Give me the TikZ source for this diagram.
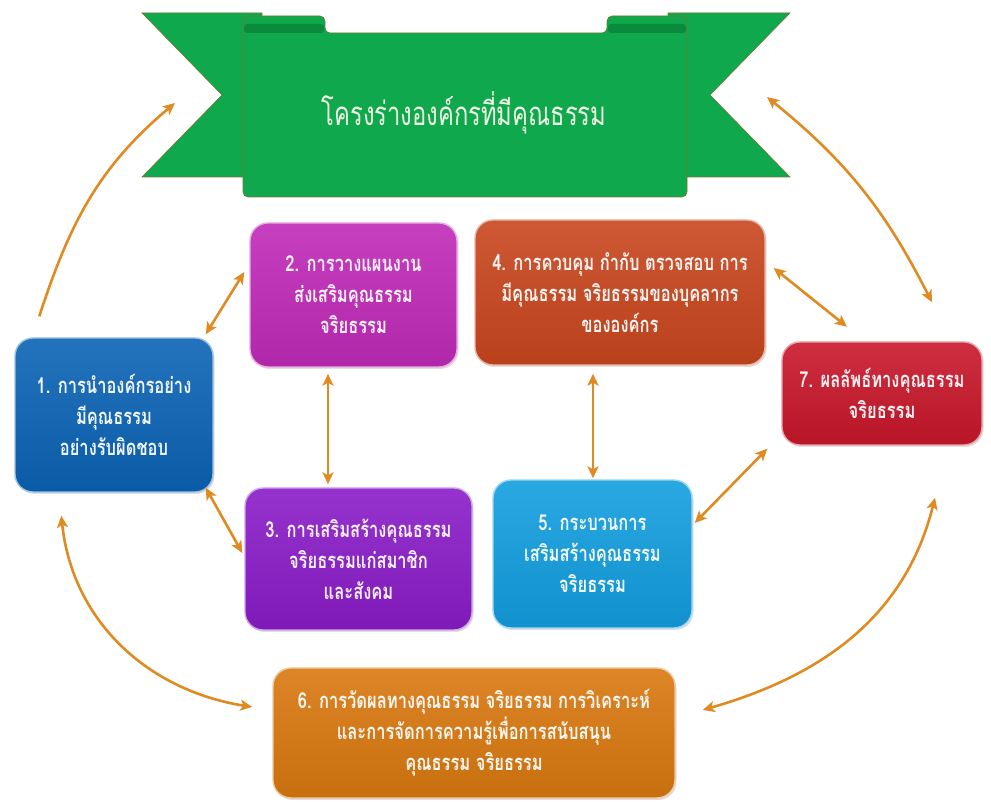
\documentclass[tikz,border=0pt]{standalone}
\usepackage{fontspec}
\newfontfamily\thaifont[Script=Thai, FakeStretch=0.75]{Loma}
\newfontfamily\thaititle[Script=Thai, FakeStretch=0.72]{Loma}
\usetikzlibrary{arrows.meta, shadows}
\definecolor{ribbon}{HTML}{0FA84C}
\definecolor{ribbonroll}{HTML}{0A8A3C}
\definecolor{rim}{HTML}{6E7A30}
\definecolor{titletext}{HTML}{EEF6E4}
\definecolor{linkorange}{HTML}{E08A22}
\definecolor{leadblue}{HTML}{0B63B5}
\definecolor{planpink}{HTML}{C02AB8}
\definecolor{buildpurple}{HTML}{8A1CC8}
\definecolor{controlrust}{HTML}{C9461E}
\definecolor{processcyan}{HTML}{129EDF}
\definecolor{measureorange}{HTML}{D9780F}
\definecolor{resultred}{HTML}{C8172A}

\begin{document}
\begin{tikzpicture}[x=1pt, y=1pt,
    box/.style={rounded corners=18pt, draw=#1!40!white, line width=1.4pt,
        top color=#1!90!white, bottom color=#1!92!black, text=#1!6!white, align=center,
        font=\thaifont\bfseries\fontsize{22}{31}\selectfont, inner sep=4pt,
        drop shadow={opacity=0.25, shadow xshift=1.5pt, shadow yshift=-2pt}},
    link/.style={line width=2.6pt, draw=linkorange, >={Stealth[length=12pt, width=11pt, inset=3pt]}}]
    \useasboundingbox (0,0) rectangle (991,801);

    \filldraw[fill=ribbon, draw=rim, line width=0.6pt] (142,788) -- (262,788) -- (262,624) -- (142,624) -- (222,706) -- cycle;
    \filldraw[fill=ribbon, draw=rim, line width=0.6pt] (790,788) -- (668,788) -- (668,624) -- (790,624) -- (710,706) -- cycle;
    \coordinate (notchL) at (222,706);
    \coordinate (notchR) at (710,706);
    \filldraw[fill=ribbon, draw=rim, line width=0.6pt, rounded corners=5pt] (243,604) -- (243,785) -- (325,785) -- (325,768) -- (607,768) -- (607,785) -- (687,785) -- (687,604) -- cycle;
    \fill[ribbonroll, rounded corners=3pt] (244,768) rectangle (324,777);
    \fill[ribbonroll, rounded corners=3pt] (608,768) rectangle (686,777);
    \node[font=\thaititle\fontsize{33}{38}\selectfont, text=titletext] (title) at (464,688) {โครงร่างองค์กรที่มีคุณธรรม};

    \node[box=leadblue, minimum width=198pt, minimum height=154pt] (b1) at (114,386) {1. การนำองค์กรอย่าง\\มีคุณธรรม\\อย่างรับผิดชอบ};
    \node[box=planpink, minimum width=207pt, minimum height=144pt] (b2) at (353.5,506) {2. การวางแผนงาน\\ส่งเสริมคุณธรรม\\จริยธรรม};
    \node[box=buildpurple, minimum width=227pt, minimum height=142pt] (b3) at (358.5,242) {3. การเสริมสร้างคุณธรรม\\จริยธรรมแก่สมาชิก\\และสังคม};
    \node[box=controlrust, minimum width=290pt, minimum height=145pt] (b4) at (620,508.5) {4. การควบคุม กำกับ ตรวจสอบ การ\\มีคุณธรรม จริยธรรมของบุคลากร\\ขององค์กร};
    \node[box=processcyan, minimum width=199pt, minimum height=148pt] (b5) at (592.5,247) {5. กระบวนการ\\เสริมสร้างคุณธรรม\\จริยธรรม};
    \node[box=measureorange, minimum width=402pt, minimum height=130pt] (b6) at (474,68) {6. การวัดผลทางคุณธรรม จริยธรรม การวิเคราะห์\\และการจัดการความรู้เพื่อการสนับสนุน\\คุณธรรม จริยธรรม};
    \node[box=resultred, minimum width=200pt, minimum height=103pt] (b7) at (882,407.5) {7. ผลลัพธ์ทางคุณธรรม\\จริยธรรม};

    \draw[link, ->] ([shift={(25,21)}]b1.north west) to[out=72, in=220] ([shift={(-47,-8)}]notchL);
    \draw[link, <->] ([shift={(57,-2)}]notchR) to[out=-39, in=117] ([shift={(50,39)}]b7.north);
    \draw[link, <->] ([shift={(47,-23)}]b1.south west) to[out=-84, in=171] ([shift={(-20,26)}]b6.west);
    \draw[link, <->] ([shift={(53,-52)}]b7.south) to[out=-104, in=16] ([shift={(27,23)}]b6.east);
    \draw[link, <->] ([shift={(-8,3)}]b1.north east) -- ([shift={(-5,23)}]b2.west);
    \draw[link, <->] ([shift={(-8,5)}]b1.south east) -- ([shift={(-2,6)}]b3.west);
    \draw[link, <->] ([shift={(-25.5,-6)}]b2.south) -- ([shift={(-30.5,3)}]b3.north);
    \draw[link, <->] ([shift={(-27,-8)}]b4.south) -- ([shift={(0.5,1)}]b5.north);
    \draw[link, <->] ([shift={(8,24.5)}]b4.east) -- ([shift={(-35,14.5)}]b7.north);
    \draw[link, <->] ([shift={(2,31)}]b5.east) -- ([shift={(-14,-3)}]b7.south west);
\end{tikzpicture}
\end{document}
